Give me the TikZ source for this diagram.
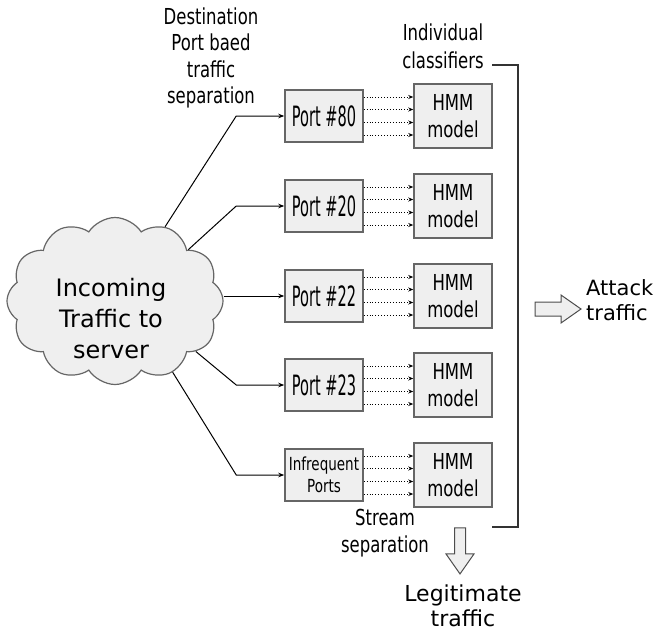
\documentclass[tikz,border=0pt]{standalone}
\usepackage{fontspec}
\setmainfont{DejaVu Sans}
\newfontfamily\condfont[FakeStretch=0.75]{DejaVu Sans}
\newfontfamily\portfont[FakeStretch=0.52]{DejaVu Sans}
\usetikzlibrary{shapes.symbols,shapes.arrows,arrows.meta}
\definecolor{boxfill}{HTML}{EFEFEF}
\definecolor{boxline}{HTML}{666666}

\begin{document}
\begin{tikzpicture}[x=1pt,y=-1pt,
    portbox/.style={draw=boxline,fill=boxfill,line width=1.5pt,minimum width=78pt,minimum height=52pt,inner sep=0pt,
        font=\portfont\fontsize{28}{30}\selectfont},
    hmmbox/.style={draw=boxline,fill=boxfill,line width=1.5pt,minimum width=78pt,minimum height=64pt,inner sep=0pt,
        align=center,font=\condfont\fontsize{22}{27}\selectfont},
    link/.style={line width=1pt,-{Stealth[length=6pt,width=4.5pt]}},
    stream/.style={dotted,line width=0.9pt,-{Stealth[length=5pt,width=4pt]}},
    fatarrow/.style={single arrow,draw=black!70,fill=boxfill,line width=1pt,inner xsep=0pt,minimum height=46pt,
        single arrow tip angle=70},
    note/.style={align=center,font=\condfont\fontsize{22}{27}\selectfont}]
    \useasboundingbox (0,0) rectangle (656,632);

    % incoming traffic
    \node[cloud,cloud puffs=12,cloud puff arc=115,aspect=1.3,draw=boxline,fill=boxfill,line width=1.2pt,
        minimum width=216pt,minimum height=167pt,inner sep=0pt] (cloud) at (115,301) {};
    \node[align=center,font=\fontsize{24}{31}\selectfont] (inc) at (111,319) {Incoming\\Traffic to\\server};

    % port streams
    \node[portbox] (p80) at (324,116) {Port \#80};
    \node[portbox] (p20) at (324,206) {Port \#20};
    \node[portbox] (p22) at (324,296) {Port \#22};
    \node[portbox] (p23) at (324,385) {Port \#23};
    \node[portbox,align=center,font=\condfont\fontsize{18}{22}\selectfont] (pinf) at (324,475) {Infrequent\\Ports};

    % classifiers
    \node[hmmbox] (h1) at (453,116) {HMM\\model};
    \node[hmmbox] (h2) at (453,206) {HMM\\model};
    \node[hmmbox] (h3) at (453,296) {HMM\\model};
    \node[hmmbox] (h4) at (453,385) {HMM\\model};
    \node[hmmbox] (h5) at (453,475) {HMM\\model};

    \draw[link] (cloud.56) -- ([xshift=-48pt]p80.west) -- (p80.west);
    \draw[link] (cloud.35) -- ([xshift=-48pt]p20.west) -- (p20.west);
    \draw[link] (cloud.east |- p22.west) -- (p22.west);
    \draw[link] (cloud.-32) -- ([xshift=-48pt]p23.west) -- (p23.west);
    \draw[link] (cloud.-51) -- ([xshift=-48pt]pinf.west) -- (pinf.west);

    \foreach \p/\h in {p80/h1,p20/h2,p22/h3,p23/h4,pinf/h5}
        \foreach \d in {-19,-6.5,6.5,19}
            \draw[stream] ([yshift=\d pt]\p.east) -- ([yshift=\d pt]\h.west);

    % output bracket and results
    \coordinate (brtop) at (492,65);
    \coordinate (brbot) at (492,527);
    \draw[line width=1.2pt,black!80] (brtop) -- ++(26,0) |- (brbot);

    \node[fatarrow,inner ysep=6.5pt,single arrow head extend=7pt] (toattack) at (553,309) {};
    \node[fatarrow,inner ysep=5pt,single arrow head extend=8.5pt,rotate=-90] (tolegit) at (460,547) {};

    \node[note,font=\condfont\fontsize{22}{26.5}\selectfont] (sep) at (211,58) {Destination\\Port baed\\traffic\\separation};
    \node[note,font=\condfont\fontsize{22}{28}\selectfont] (cls) at (443,46) {Individual\\classifiers};
    \node[note] (strm) at (385,533) {Stream\\separation};
    \node[align=left,anchor=west,inner xsep=0pt,font=\fontsize{21}{25}\selectfont] (atk) at (586,300) {Attack\\traffic};
    \node[align=center,font=\fontsize{22}{25}\selectfont] (legit) at (463,606) {Legitimate\\traffic};
\end{tikzpicture}
\end{document}
